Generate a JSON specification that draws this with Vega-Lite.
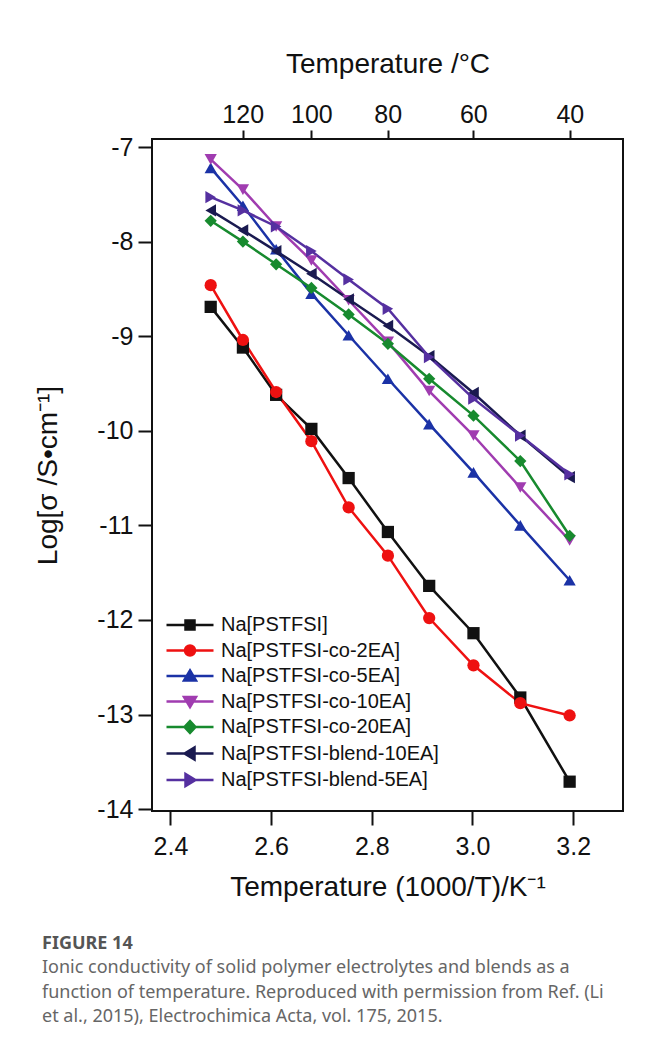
{
  "$schema": "https://vega.github.io/schema/vega-lite/v6.json",
  "width": 471,
  "height": 672,
  "autosize": {"type": "none"},
  "padding": {"left": 152, "top": 139, "right": 23, "bottom": 237},
  "background": "white",
  "title": {
    "text": "FIGURE 14",
    "subtitle": [
      "Ionic conductivity of solid polymer electrolytes and blends as a",
      "function of temperature. Reproduced with permission from Ref. (Li",
      "et al., 2015), Electrochimica Acta, vol. 175, 2015."
    ],
    "orient": "bottom",
    "anchor": "start",
    "frame": "group",
    "dx": -110,
    "offset": 34,
    "font": "Noto Sans",
    "fontSize": 18,
    "fontWeight": "bold",
    "color": "#555555",
    "subtitleFont": "Noto Sans",
    "subtitleFontSize": 18,
    "subtitleColor": "#666666",
    "subtitlePadding": 6,
    "subtitleLineHeight": 24.5
  },
  "config": {
    "view": {"stroke": "#111111", "strokeWidth": 2},
    "font": "Liberation Sans",
    "axisY": {
      "grid": false,
      "domain": false,
      "tickSize": 14,
      "tickWidth": 2,
      "tickColor": "#111111",
      "labelFont": "Liberation Sans",
      "labelFontSize": 25,
      "labelColor": "#111111",
      "labelPadding": 5,
      "labelFlush": false,
      "labelOverlap": false,
      "titleFont": "Liberation Sans",
      "titleFontSize": 28,
      "titleFontWeight": "normal",
      "titleColor": "#111111",
      "titlePadding": 34
    },
    "legend": {
      "orient": "none",
      "legendX": 26.5,
      "legendY": 474.5,
      "padding": 0,
      "symbolSize": 400,
      "symbolStrokeWidth": 2.5,
      "labelFont": "Liberation Sans",
      "labelFontSize": 20,
      "labelColor": "#111111",
      "labelOffset": 19.5,
      "labelLimit": 400,
      "rowPadding": 3.5
    }
  },
  "data": {
    "values": [
      {"sample": "Na[PSTFSI]", "invT": 2.480, "logS": -8.69},
      {"sample": "Na[PSTFSI]", "invT": 2.544, "logS": -9.12},
      {"sample": "Na[PSTFSI]", "invT": 2.610, "logS": -9.62},
      {"sample": "Na[PSTFSI]", "invT": 2.680, "logS": -9.98},
      {"sample": "Na[PSTFSI]", "invT": 2.754, "logS": -10.50},
      {"sample": "Na[PSTFSI]", "invT": 2.832, "logS": -11.07},
      {"sample": "Na[PSTFSI]", "invT": 2.914, "logS": -11.64},
      {"sample": "Na[PSTFSI]", "invT": 3.002, "logS": -12.14},
      {"sample": "Na[PSTFSI]", "invT": 3.095, "logS": -12.82},
      {"sample": "Na[PSTFSI]", "invT": 3.193, "logS": -13.71},
      {"sample": "Na[PSTFSI-co-2EA]", "invT": 2.480, "logS": -8.46},
      {"sample": "Na[PSTFSI-co-2EA]", "invT": 2.544, "logS": -9.04},
      {"sample": "Na[PSTFSI-co-2EA]", "invT": 2.610, "logS": -9.59},
      {"sample": "Na[PSTFSI-co-2EA]", "invT": 2.680, "logS": -10.11},
      {"sample": "Na[PSTFSI-co-2EA]", "invT": 2.754, "logS": -10.81},
      {"sample": "Na[PSTFSI-co-2EA]", "invT": 2.832, "logS": -11.32},
      {"sample": "Na[PSTFSI-co-2EA]", "invT": 2.914, "logS": -11.98},
      {"sample": "Na[PSTFSI-co-2EA]", "invT": 3.002, "logS": -12.48},
      {"sample": "Na[PSTFSI-co-2EA]", "invT": 3.095, "logS": -12.88},
      {"sample": "Na[PSTFSI-co-2EA]", "invT": 3.193, "logS": -13.01},
      {"sample": "Na[PSTFSI-co-5EA]", "invT": 2.480, "logS": -7.22},
      {"sample": "Na[PSTFSI-co-5EA]", "invT": 2.544, "logS": -7.62},
      {"sample": "Na[PSTFSI-co-5EA]", "invT": 2.610, "logS": -8.08},
      {"sample": "Na[PSTFSI-co-5EA]", "invT": 2.680, "logS": -8.55},
      {"sample": "Na[PSTFSI-co-5EA]", "invT": 2.754, "logS": -8.99},
      {"sample": "Na[PSTFSI-co-5EA]", "invT": 2.832, "logS": -9.45},
      {"sample": "Na[PSTFSI-co-5EA]", "invT": 2.914, "logS": -9.93},
      {"sample": "Na[PSTFSI-co-5EA]", "invT": 3.002, "logS": -10.44},
      {"sample": "Na[PSTFSI-co-5EA]", "invT": 3.095, "logS": -11.00},
      {"sample": "Na[PSTFSI-co-5EA]", "invT": 3.193, "logS": -11.58},
      {"sample": "Na[PSTFSI-co-10EA]", "invT": 2.480, "logS": -7.13},
      {"sample": "Na[PSTFSI-co-10EA]", "invT": 2.544, "logS": -7.45},
      {"sample": "Na[PSTFSI-co-10EA]", "invT": 2.610, "logS": -7.84},
      {"sample": "Na[PSTFSI-co-10EA]", "invT": 2.680, "logS": -8.20},
      {"sample": "Na[PSTFSI-co-10EA]", "invT": 2.754, "logS": -8.62},
      {"sample": "Na[PSTFSI-co-10EA]", "invT": 2.832, "logS": -9.06},
      {"sample": "Na[PSTFSI-co-10EA]", "invT": 2.914, "logS": -9.58},
      {"sample": "Na[PSTFSI-co-10EA]", "invT": 3.002, "logS": -10.05},
      {"sample": "Na[PSTFSI-co-10EA]", "invT": 3.095, "logS": -10.60},
      {"sample": "Na[PSTFSI-co-10EA]", "invT": 3.193, "logS": -11.16},
      {"sample": "Na[PSTFSI-co-20EA]", "invT": 2.480, "logS": -7.78},
      {"sample": "Na[PSTFSI-co-20EA]", "invT": 2.544, "logS": -8.00},
      {"sample": "Na[PSTFSI-co-20EA]", "invT": 2.610, "logS": -8.24},
      {"sample": "Na[PSTFSI-co-20EA]", "invT": 2.680, "logS": -8.49},
      {"sample": "Na[PSTFSI-co-20EA]", "invT": 2.754, "logS": -8.77},
      {"sample": "Na[PSTFSI-co-20EA]", "invT": 2.832, "logS": -9.08},
      {"sample": "Na[PSTFSI-co-20EA]", "invT": 2.914, "logS": -9.45},
      {"sample": "Na[PSTFSI-co-20EA]", "invT": 3.002, "logS": -9.84},
      {"sample": "Na[PSTFSI-co-20EA]", "invT": 3.095, "logS": -10.32},
      {"sample": "Na[PSTFSI-co-20EA]", "invT": 3.193, "logS": -11.11},
      {"sample": "Na[PSTFSI-blend-10EA]", "invT": 2.480, "logS": -7.67},
      {"sample": "Na[PSTFSI-blend-10EA]", "invT": 2.544, "logS": -7.88},
      {"sample": "Na[PSTFSI-blend-10EA]", "invT": 2.610, "logS": -8.10},
      {"sample": "Na[PSTFSI-blend-10EA]", "invT": 2.680, "logS": -8.34},
      {"sample": "Na[PSTFSI-blend-10EA]", "invT": 2.754, "logS": -8.61},
      {"sample": "Na[PSTFSI-blend-10EA]", "invT": 2.832, "logS": -8.89},
      {"sample": "Na[PSTFSI-blend-10EA]", "invT": 2.914, "logS": -9.21},
      {"sample": "Na[PSTFSI-blend-10EA]", "invT": 3.002, "logS": -9.60},
      {"sample": "Na[PSTFSI-blend-10EA]", "invT": 3.095, "logS": -10.05},
      {"sample": "Na[PSTFSI-blend-10EA]", "invT": 3.193, "logS": -10.49},
      {"sample": "Na[PSTFSI-blend-5EA]", "invT": 2.480, "logS": -7.53},
      {"sample": "Na[PSTFSI-blend-5EA]", "invT": 2.544, "logS": -7.67},
      {"sample": "Na[PSTFSI-blend-5EA]", "invT": 2.610, "logS": -7.84},
      {"sample": "Na[PSTFSI-blend-5EA]", "invT": 2.680, "logS": -8.10},
      {"sample": "Na[PSTFSI-blend-5EA]", "invT": 2.754, "logS": -8.40},
      {"sample": "Na[PSTFSI-blend-5EA]", "invT": 2.832, "logS": -8.71},
      {"sample": "Na[PSTFSI-blend-5EA]", "invT": 2.914, "logS": -9.22},
      {"sample": "Na[PSTFSI-blend-5EA]", "invT": 3.002, "logS": -9.66},
      {"sample": "Na[PSTFSI-blend-5EA]", "invT": 3.095, "logS": -10.05},
      {"sample": "Na[PSTFSI-blend-5EA]", "invT": 3.193, "logS": -10.46}
    ]
  },
  "layer": [
    {
      "mark": {"type": "line", "strokeWidth": 2.5},
      "encoding": {
        "x": {
          "field": "invT",
          "type": "quantitative",
          "scale": {"domain": [2.3634, 3.299], "nice": false, "zero": false},
          "axis": {
            "orient": "bottom",
            "values": [2.4, 2.6, 2.8, 3.0, 3.2],
            "format": ".1f",
            "title": "Temperature (1000/T)/K⁻¹",
            "grid": false,
            "domain": false,
            "tickSize": 14,
            "tickWidth": 2,
            "tickColor": "#111111",
            "labelFont": "Liberation Sans",
            "labelFontSize": 25,
            "labelColor": "#111111",
            "labelPadding": 9,
            "labelFlush": false,
            "labelOverlap": false,
            "titleFont": "Liberation Sans",
            "titleFontSize": 28,
            "titleFontWeight": "normal",
            "titleColor": "#111111",
            "titlePadding": 14
          }
        },
        "y": {
          "field": "logS",
          "type": "quantitative",
          "title": "Log[σ /S•cm⁻¹]",
          "scale": {"domain": [-14.02, -6.915], "nice": false, "zero": false},
          "axis": {"values": [-14, -13, -12, -11, -10, -9, -8, -7], "labelExpr": "'' + datum.value"}
        },
        "color": {
          "field": "sample",
          "type": "nominal",
          "title": null,
          "scale": {
            "domain": ["Na[PSTFSI]", "Na[PSTFSI-co-2EA]", "Na[PSTFSI-co-5EA]", "Na[PSTFSI-co-10EA]", "Na[PSTFSI-co-20EA]", "Na[PSTFSI-blend-10EA]", "Na[PSTFSI-blend-5EA]"],
            "range": ["#111111", "#ee1111", "#1b32a6", "#a03cb0", "#178a2e", "#1a1a50", "#5530a0"]
          },
          "legend": {
            "symbolType": {"expr": "datum.value === 'Na[PSTFSI]' ? 'M-2.35,0H2.35M-0.45,-0.45H0.45V0.45H-0.45Z' : datum.value === 'Na[PSTFSI-co-2EA]' ? 'M-2.35,0H2.35M-0.5,0A0.5,0.5,0,1,0,0.5,0A0.5,0.5,0,1,0,-0.5,0Z' : datum.value === 'Na[PSTFSI-co-5EA]' ? 'M-2.35,0H2.35M0,-0.55L0.6,0.45H-0.6Z' : datum.value === 'Na[PSTFSI-co-10EA]' ? 'M-2.35,0H2.35M0,0.55L0.6,-0.45H-0.6Z' : datum.value === 'Na[PSTFSI-co-20EA]' ? 'M-2.35,0H2.35M0,-0.6L0.55,0L0,0.6L-0.55,0Z' : datum.value === 'Na[PSTFSI-blend-10EA]' ? 'M-2.35,0H2.35M-0.55,0L0.45,-0.6V0.6Z' : 'M-2.35,0H2.35M0.55,0L-0.45,-0.6V0.6Z'"},
            "symbolFillColor": {"expr": "scale('color', datum.value)"}
          }
        }
      }
    },
    {
      "mark": {"type": "point", "filled": true, "opacity": 1, "size": 150},
      "encoding": {
        "x": {
          "field": "invT",
          "type": "quantitative",
          "scale": {"domain": [2.3634, 3.299], "nice": false, "zero": false},
          "axis": {
            "orient": "top",
            "values": [2.5436, 2.6799, 2.8317, 3.0017, 3.1934],
            "labelExpr": "format(1000 / datum.value - 273.15, '.0f')",
            "title": "Temperature /°C",
            "grid": false,
            "domain": false,
            "tickSize": 9,
            "tickWidth": 2,
            "tickColor": "#111111",
            "labelFont": "Liberation Sans",
            "labelFontSize": 25,
            "labelColor": "#111111",
            "labelPadding": 3,
            "labelFlush": false,
            "labelOverlap": false,
            "titleFont": "Liberation Sans",
            "titleFontSize": 28,
            "titleFontWeight": "normal",
            "titleColor": "#111111",
            "titlePadding": 24
          }
        },
        "y": {
          "field": "logS",
          "type": "quantitative",
          "title": "Log[σ /S•cm⁻¹]",
          "scale": {"domain": [-14.02, -6.915], "nice": false, "zero": false},
          "axis": {"values": [-14, -13, -12, -11, -10, -9, -8, -7], "labelExpr": "'' + datum.value"}
        },
        "color": {
          "field": "sample",
          "type": "nominal",
          "title": null,
          "scale": {
            "domain": ["Na[PSTFSI]", "Na[PSTFSI-co-2EA]", "Na[PSTFSI-co-5EA]", "Na[PSTFSI-co-10EA]", "Na[PSTFSI-co-20EA]", "Na[PSTFSI-blend-10EA]", "Na[PSTFSI-blend-5EA]"],
            "range": ["#111111", "#ee1111", "#1b32a6", "#a03cb0", "#178a2e", "#1a1a50", "#5530a0"]
          },
          "legend": null
        },
        "shape": {
          "field": "sample",
          "type": "nominal",
          "scale": {
            "domain": ["Na[PSTFSI]", "Na[PSTFSI-co-2EA]", "Na[PSTFSI-co-5EA]", "Na[PSTFSI-co-10EA]", "Na[PSTFSI-co-20EA]", "Na[PSTFSI-blend-10EA]", "Na[PSTFSI-blend-5EA]"],
            "range": ["square", "circle", "triangle-up", "triangle-down", "diamond", "triangle-left", "triangle-right"]
          },
          "legend": null
        }
      }
    }
  ],
  "resolve": {"axis": {"x": "independent"}, "legend": {"color": "independent", "shape": "independent"}}
}
